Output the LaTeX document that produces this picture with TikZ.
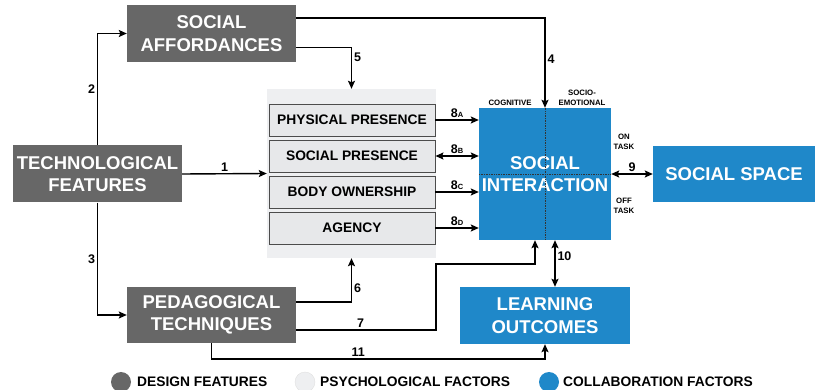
\documentclass[tikz,border=0pt]{standalone}
\usepackage{fontspec}
\setmainfont{Liberation Sans}
\usetikzlibrary{arrows.meta}
\definecolor{designgray}{HTML}{676767}
\definecolor{psychbg}{HTML}{EEEFF1}
\definecolor{psychbox}{HTML}{E7E8EA}
\definecolor{collabblue}{HTML}{1F88C9}

\begin{document}
\begin{tikzpicture}[x=1pt,y=-1pt,
  design/.style={fill=designgray,text=white,align=center,inner sep=0pt,
    minimum width=169pt,minimum height=57pt,font=\fontsize{18.5}{22.5}\selectfont\bfseries},
  collab/.style={design,fill=collabblue},
  factor/.style={fill=psychbox,draw=black!70,line width=0.9pt,inner sep=0pt,
    minimum width=166pt,minimum height=32pt,font=\fontsize{13.8}{16}\selectfont\bfseries},
  arr/.style={line width=1.4pt,-{Stealth[length=8pt,width=7pt,inset=1.5pt]}},
  darr/.style={arr,{Stealth[length=8pt,width=7pt,inset=1.5pt]}-{Stealth[length=8pt,width=7pt,inset=1.5pt]}},
  num/.style={font=\fontsize{12.5}{14}\selectfont\bfseries,inner sep=1.8pt},
  tiny/.style={font=\fontsize{7.8}{9.5}\selectfont\bfseries,align=center,inner sep=0pt},
  legend/.style={font=\fontsize{13.8}{16}\selectfont\bfseries,anchor=west,inner sep=0pt}]
\useasboundingbox (0,0) rectangle (815,390);

% design features
\node[design] (sa) at (211.5,33.5) {SOCIAL\\AFFORDANCES};
\node[design] (tf) at (97.5,174) {TECHNOLOGICAL\\FEATURES};
\node[design,minimum height=56pt] (pt) at (211.5,315) {PEDAGOGICAL\\TECHNIQUES};

% psychological factors
\node[fill=psychbg,minimum width=169pt,minimum height=169pt,inner sep=0pt] (psy) at (351.5,173.5) {};
\node[factor] (phy) at (352,120) {PHYSICAL PRESENCE};
\node[factor] (soc) at (352,156) {SOCIAL PRESENCE};
\node[factor] (bod) at (352,192) {BODY OWNERSHIP};
\node[factor] (agn) at (352,228) {AGENCY};

% collaboration factors
\node[collab,minimum width=132pt,minimum height=132pt] (si) at (545,174) {SOCIAL\\INTERACTION};
\draw[black!80,densely dotted,line width=0.7pt] (si.north) -- (si.south);
\draw[black!80,densely dotted,line width=0.7pt] (si.west) -- (si.east);
\node[collab,minimum width=162pt,minimum height=56pt] (ss) at (734,174) {SOCIAL SPACE};
\node[collab,minimum width=170pt] (lo) at (545,315.5) {LEARNING\\OUTCOMES};

\node[tiny] (cog) at (510,103) {COGNITIVE};
\node[tiny] (emo) at (582,98) {SOCIO-\\EMOTIONAL};
\node[tiny] (on) at (624,142) {ON\\TASK};
\node[tiny] (off) at (624,206) {OFF\\TASK};

% connectors
\draw[arr] (tf.east) -- node[num,above] {1} (psy.west);
\draw[arr] (tf.north) |- node[num,pos=0.25,left] {2} (sa.west);
\draw[arr] (tf.south) |- node[num,pos=0.25,left] {3} (pt.west);
\draw[arr] ([yshift=15.5pt]sa.east) -| node[num,pos=0.73,right] {4} (si.north);
\draw[arr] ([yshift=-14pt]sa.east) -| node[num,pos=0.62,right] {5} (psy.north);
\draw[arr] ([yshift=13pt]pt.east) -| node[num,pos=0.66,right] {6} (psy.south);
\coordinate (k7) at (436,264);
\draw[arr] ([yshift=-15pt]pt.east) -| node[num,pos=0.23,above] {7} (k7) -| ([xshift=-10pt]si.south);
\draw[arr] (phy.east) -- node[num,above] {8\fontsize{7.5}{8}\selectfont A} (phy.east -| si.west);
\draw[darr] (soc.east) -- node[num,above] {8\fontsize{7.5}{8}\selectfont B} (soc.east -| si.west);
\draw[arr] (bod.east) -- node[num,above] {8\fontsize{7.5}{8}\selectfont C} (bod.east -| si.west);
\draw[arr] (agn.east) -- node[num,above] {8\fontsize{7.5}{8}\selectfont D} (agn.east -| si.west);
\draw[darr] (si.east) -- node[num,above] {9} (ss.west);
\draw[darr] ([xshift=10pt]si.south) -- node[num,pos=0.35,right] {10} ([xshift=10pt]lo.north);
\draw[arr] (pt.south) -- ++(0,16) -| node[num,pos=0.22,above] {11} (lo.south);

% legend
\fill[designgray] (121,382) circle (10pt);
\node[legend] (ldes) at (137,382) {DESIGN FEATURES};
\filldraw[fill=psychbg,draw=black!12] (305,382) circle (10pt);
\node[legend] (lpsy) at (320,382) {PSYCHOLOGICAL FACTORS};
\fill[collabblue] (549,382) circle (10pt);
\node[legend] (lcol) at (563,382) {COLLABORATION FACTORS};
\end{tikzpicture}
\end{document}
